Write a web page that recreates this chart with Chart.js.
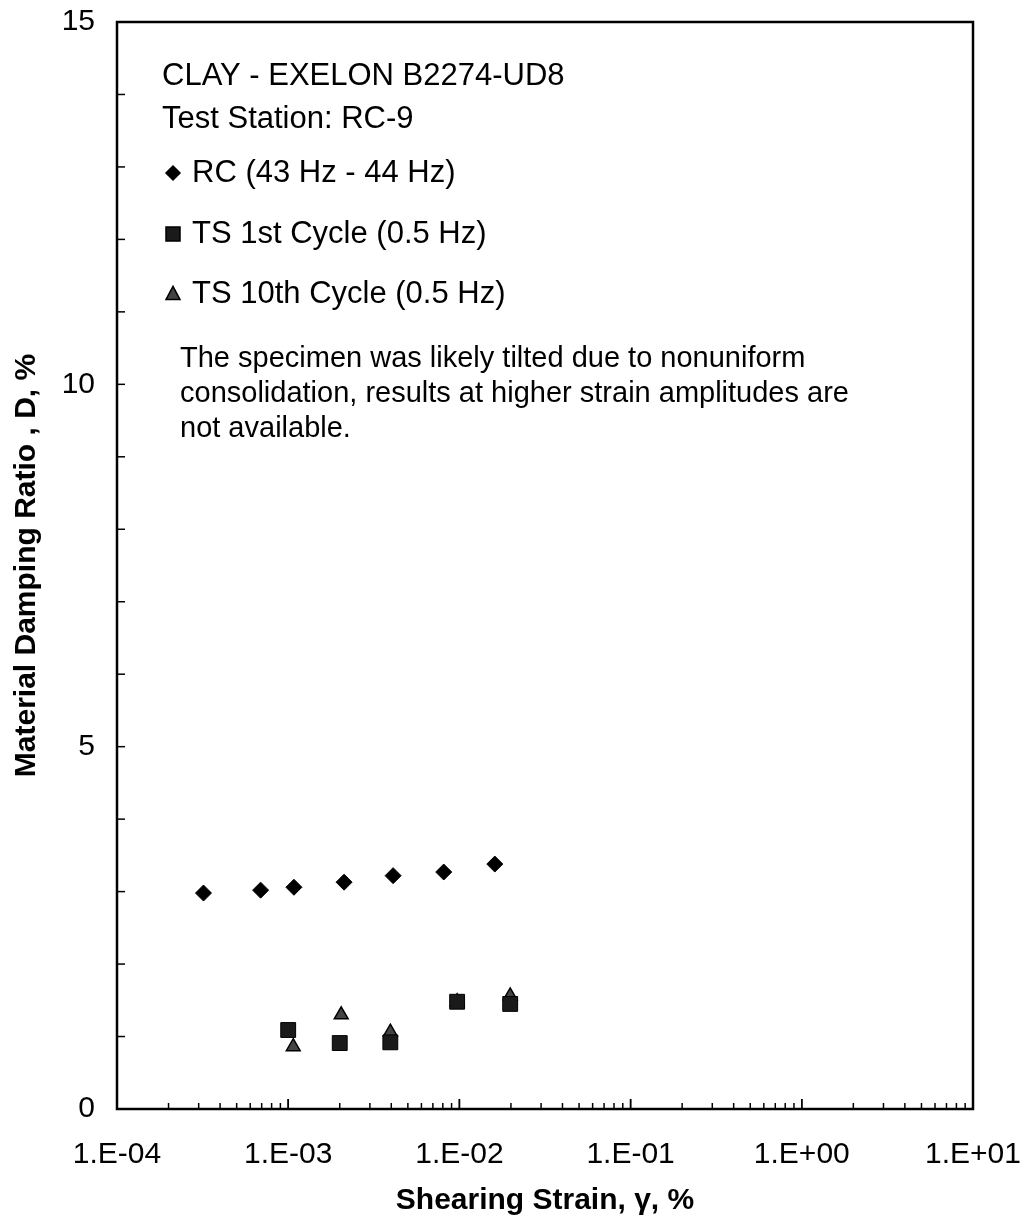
<!DOCTYPE html>
<html>
<head>
<meta charset="utf-8">
<title>Material Damping Ratio vs Shearing Strain</title>
<script src="https://cdn.jsdelivr.net/npm/chart.js@4.4.1/dist/chart.umd.min.js"></script>
<style>
    html, body { margin: 0; padding: 0; background: #fff; }
    #chartDamping { display: block; }
</style>
</head>
<body>
<canvas id="chartDamping" width="1026" height="1226"></canvas>
<script>
// Données : déformation de cisaillement (%) et amortissement (%)
const rcStrain = [3.2e-4, 6.9e-4, 1.08e-3, 2.12e-3, 4.1e-3, 8.1e-3, 1.61e-2];
const rcDamping = [2.98, 3.02, 3.06, 3.13, 3.22, 3.27, 3.38];

const ts1Strain = [1.0e-3, 2.0e-3, 3.95e-3, 9.7e-3, 1.98e-2];
const ts1Damping = [1.09, 0.91, 0.92, 1.48, 1.45];

const ts10Strain = [1.07e-3, 2.04e-3, 3.95e-3, 9.7e-3, 1.98e-2];
const ts10Damping = [0.86, 1.30, 1.06, 1.48, 1.56];

const xTickValues = [1e-4, 1e-3, 1e-2, 1e-1, 1, 10];
const xTickLabels = ['1.E-04', '1.E-03', '1.E-02', '1.E-01', '1.E+00', '1.E+01'];
const yTickValues = [0, 5, 10, 15];

const legendLabels = ['RC (43 Hz - 44 Hz)', 'TS 1st Cycle (0.5 Hz)', 'TS 10th Cycle (0.5 Hz)'];
const noteLines = [
    'The specimen was likely tilted due to nonuniform',
    'consolidation, results at higher strain amplitudes are',
    'not available.'
];

const FONT = '"Liberation Sans", Arial, sans-serif';

function toPoints(xs, ys) {
    return xs.map((x, i) => ({ x: x, y: ys[i] }));
}

// pas de marge automatique autour des axes
function noScalePadding(scale) {
    scale.paddingTop = 0;
    scale.paddingBottom = 0;
    scale.paddingLeft = 0;
    scale.paddingRight = 0;
}

// petits marqueurs pour la légende dessinée à la main
function drawMarker(ctx, kind, x, y, s, fill, stroke) {
    ctx.save();
    ctx.beginPath();
    if (kind === 'diamond') {
        ctx.moveTo(x, y - s); ctx.lineTo(x + s, y); ctx.lineTo(x, y + s); ctx.lineTo(x - s, y);
    } else if (kind === 'square') {
        ctx.rect(x - s, y - s, 2 * s, 2 * s);
    } else {
        ctx.moveTo(x, y - s * 1.1); ctx.lineTo(x + s, y + s * 0.8); ctx.lineTo(x - s, y + s * 0.8);
    }
    ctx.closePath();
    ctx.fillStyle = fill;
    ctx.fill();
    ctx.lineWidth = 1.5;
    ctx.strokeStyle = stroke;
    ctx.stroke();
    ctx.restore();
}

// cadre, graduations intérieures et textes
const decorPlugin = {
    id: 'decor',
    afterDraw(chart) {
        const ctx = chart.ctx;
        const area = chart.chartArea;
        const xs = chart.scales.x;
        const ys = chart.scales.y;

        ctx.save();
        ctx.strokeStyle = '#000';

        // graduations Y tous les 1 %
        ctx.lineWidth = 1.5;
        for (let v = 1; v < 15; v++) {
            const py = ys.getPixelForValue(v);
            ctx.beginPath();
            ctx.moveTo(area.left, py);
            ctx.lineTo(area.left + 8, py);
            ctx.stroke();
        }

        // graduations X logarithmiques
        for (let d = -4; d < 1; d++) {
            for (let k = 1; k <= 10; k++) {
                const v = k * Math.pow(10, d);
                const px = xs.getPixelForValue(v);
                if (px <= area.left + 1 || px >= area.right - 1) continue;
                const len = (k === 1 || k === 10) ? 10 : 6;
                ctx.beginPath();
                ctx.moveTo(px, area.bottom);
                ctx.lineTo(px, area.bottom - len);
                ctx.stroke();
            }
        }

        // cadre
        ctx.lineWidth = 2.5;
        ctx.strokeRect(area.left, area.top, area.right - area.left, area.bottom - area.top);

        // titres des axes, centrés sur la zone de tracé
        const midX = (area.left + area.right) / 2;
        const midY = (area.top + area.bottom) / 2;
        ctx.fillStyle = '#000';
        ctx.font = 'bold 30px ' + FONT;
        ctx.textAlign = 'center';
        ctx.textBaseline = 'middle';
        ctx.fillText('Shearing Strain, \u03B3, %', midX, 1201);

        ctx.save();
        ctx.translate(27, midY);
        ctx.rotate(-Math.PI / 2);
        ctx.fillText('Material Damping Ratio , D, %', 0, 0);
        ctx.restore();

        // en-tête
        ctx.textAlign = 'left';
        ctx.font = '31px ' + FONT;
        ctx.fillText('CLAY - EXELON B2274-UD8', 162, 76);
        ctx.fillText('Test Station: RC-9', 162, 119);

        // légende
        const legendY = [173, 234, 294];
        const kinds = ['diamond', 'square', 'triangle'];
        const fills = ['#000', '#1a1a1a', '#444'];
        legendLabels.forEach((label, i) => {
            drawMarker(ctx, kinds[i], 173, legendY[i], 7, fills[i], '#000');
            ctx.fillStyle = '#000';
            ctx.fillText(label, 192, legendY[i]);
        });

        // remarque
        ctx.font = '29px ' + FONT;
        noteLines.forEach((line, i) => {
            ctx.fillText(line, 180, 359 + i * 35);
        });

        ctx.restore();
    }
};

document.addEventListener('DOMContentLoaded', function() {
    const canvas = document.getElementById('chartDamping');
    const ctx = canvas.getContext('2d');

    const chart = new Chart(ctx, {
        type: 'scatter',
        data: {
            datasets: [{
                label: legendLabels[0],
                data: toPoints(rcStrain, rcDamping),
                pointStyle: 'rectRot',
                pointRadius: 8,
                backgroundColor: '#000',
                borderColor: '#000',
                borderWidth: 1
            }, {
                label: legendLabels[1],
                data: toPoints(ts1Strain, ts1Damping),
                pointStyle: 'rect',
                pointRadius: 10.5,
                backgroundColor: '#1a1a1a',
                borderColor: '#000',
                borderWidth: 1
            }, {
                label: legendLabels[2],
                data: toPoints(ts10Strain, ts10Damping),
                pointStyle: 'triangle',
                pointRadius: 8,
                backgroundColor: '#444',
                borderColor: '#000',
                borderWidth: 1.5
            }]
        },
        options: {
            responsive: false,
            animation: false,
            devicePixelRatio: 1,
            layout: {
                padding: { top: 22, right: 53, left: 0, bottom: 0 }
            },
            plugins: {
                legend: { display: false },
                tooltip: { enabled: false }
            },
            scales: {
                x: {
                    type: 'logarithmic',
                    min: 1e-4,
                    max: 10,
                    grid: { display: false, drawTicks: false, tickLength: 0 },
                    border: { display: false },
                    afterBuildTicks: function(scale) {
                        scale.ticks = xTickValues.map(v => ({ value: v }));
                    },
                    afterFit: function(scale) {
                        scale.height = 117;
                        noScalePadding(scale);
                    },
                    ticks: {
                        autoSkip: false,
                        maxRotation: 0,
                        padding: 28,
                        color: '#000',
                        font: { family: FONT, size: 30 },
                        callback: function(value, index) {
                            return xTickLabels[index];
                        }
                    }
                },
                y: {
                    min: 0,
                    max: 15,
                    grid: { display: false, drawTicks: false, tickLength: 0 },
                    border: { display: false },
                    afterBuildTicks: function(scale) {
                        scale.ticks = yTickValues.map(v => ({ value: v }));
                    },
                    afterFit: function(scale) {
                        scale.width = 117;
                        noScalePadding(scale);
                    },
                    ticks: {
                        padding: 22,
                        color: '#000',
                        font: { family: FONT, size: 30 }
                    }
                }
            }
        },
        plugins: [decorPlugin]
    });
});
</script>
</body>
</html>
